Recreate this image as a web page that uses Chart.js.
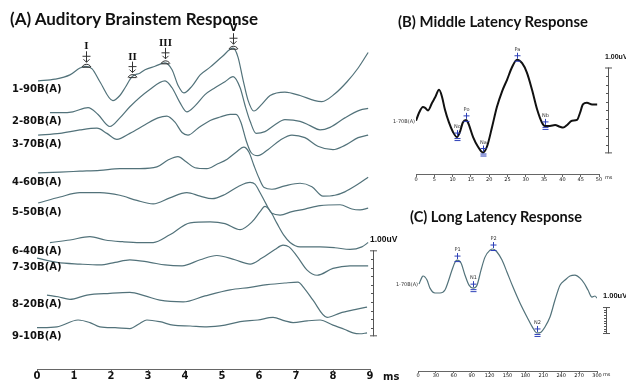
<!DOCTYPE html>
<html>
<head>
<meta charset="utf-8">
<script src="https://cdn.jsdelivr.net/npm/chart.js@4.4.1/dist/chart.umd.min.js"></script>
<style>
  html, body { margin: 0; padding: 0; background: #fff; }
  #wrap { position: relative; width: 626px; height: 381px; overflow: hidden; }
  canvas { position: absolute; }
  .title { position: absolute; font-family: Lato, sans-serif; font-weight: bold; color: #111;
           white-space: nowrap; transform-origin: 0 0; line-height: 1; }
</style>
</head>
<body>
<div id="wrap">
  <canvas id="abr" width="400" height="381" style="left:0;top:0;width:400px;height:381px"></canvas>
  <canvas id="mlr" width="241" height="195" style="left:385px;top:0;width:241px;height:195px"></canvas>
  <canvas id="llr" width="241" height="186" style="left:385px;top:195px;width:241px;height:186px"></canvas>
  <div class="title" id="tA" data-w="248" style="left:10px;top:10px;font-size:17px">(A) Auditory Brainstem Response</div>
  <div class="title" id="tB" data-w="190" style="left:398px;top:13px;font-size:16px">(B) Middle Latency Response</div>
  <div class="title" id="tC" data-w="172" style="left:410px;top:208px;font-size:16px">(C) Long Latency Response</div>
</div>
<script>
// ---- (A) ABR: one trace per stimulus level, [ms, uV relative to trace baseline]
const abrLabels = ['1-90B(A)', '2-80B(A)', '3-70B(A)', '4-60B(A)', '5-50B(A)', '6-40B(A)', '7-30B(A)', '8-20B(A)', '9-10B(A)'];
const abrOffsets = [3.35, 2.98, 2.72, 2.28, 1.93, 1.47, 1.29, 0.86, 0.48];

const abr90 = [[0.03,0],[0.49,0.02],[0.89,0.07],[1.16,0.15],[1.32,0.17],[1.49,0.14],[1.70,-0.01],[2.05,-0.23],[2.24,-0.17],[2.38,-0.08],[2.57,0.05],[2.78,0.09],[2.92,0.13],[3.19,0.17],[3.46,0.21],[3.65,0.13],[3.81,-0.05],[3.97,-0.14],[4.19,-0.06],[4.41,0.07],[4.68,0.16],[5.00,0.28],[5.30,0.38],[5.43,0.28],[5.57,0.01],[5.70,-0.22],[5.86,-0.35],[6.08,-0.27],[6.30,-0.17],[6.70,-0.13],[7.11,-0.17],[7.51,-0.23],[7.70,-0.24],[8.05,-0.15],[8.38,-0.01],[8.68,0.15],[8.95,0.33]];
const abr80 = [[0.35,0],[0.62,0],[0.97,0.01],[1.38,0.06],[1.65,-0.02],[1.97,-0.16],[2.24,-0.06],[2.51,0.07],[3.05,0.27],[3.46,0.37],[3.65,0.29],[3.86,0.12],[4.05,0.01],[4.27,0.08],[4.54,0.21],[4.81,0.29],[5.08,0.36],[5.30,0.42],[5.49,0.29],[5.62,0.09],[5.76,-0.10],[5.92,-0.24],[6.16,-0.22],[6.43,-0.14],[6.70,-0.08],[7.11,-0.10],[7.38,-0.15],[7.65,-0.20],[7.92,-0.17],[8.32,-0.06],[8.73,0.03],[8.95,0.05]];
const abr70 = [[0.03,0],[0.62,0.02],[1.16,0.06],[1.62,0.08],[1.89,0.02],[2.16,-0.05],[2.51,0.02],[2.92,0.12],[3.27,0.20],[3.51,0.22],[3.73,0.15],[3.92,0.03],[4.08,0],[4.35,0.08],[4.68,0.17],[4.95,0.21],[5.22,0.24],[5.38,0.24],[5.51,0.15],[5.65,-0.06],[5.78,-0.20],[5.97,-0.24],[6.24,-0.17],[6.57,-0.06],[6.89,0],[7.24,-0.03],[7.59,-0.13],[8.00,-0.17],[8.32,-0.12],[8.68,-0.03],[8.95,0]];
const abr60 = [[0.03,0],[0.62,0.01],[1.16,0.02],[1.70,0.03],[2.24,0.05],[2.78,0.05],[3.24,0.07],[3.54,0.15],[3.81,0.19],[4.03,0.13],[4.27,0.06],[4.59,0.05],[4.86,0.10],[5.14,0.16],[5.38,0.24],[5.59,0.30],[5.73,0.24],[5.86,0.09],[6.00,-0.06],[6.14,-0.17],[6.35,-0.19],[6.70,-0.15],[7.11,-0.12],[7.43,-0.16],[7.73,-0.27],[8.05,-0.26],[8.32,-0.22],[8.68,-0.13],[8.95,-0.05]];
const abr50 = [[0.03,0],[0.62,0.07],[1.16,0.12],[1.70,0.12],[2.24,0.09],[2.70,0.03],[3.14,-0.01],[3.59,0.06],[4.05,0.12],[4.41,0.08],[4.73,0.05],[5.08,0.10],[5.43,0.19],[5.76,0.24],[5.89,0.22],[6.03,0.12],[6.19,-0.01],[6.35,-0.12],[6.57,-0.14],[6.89,-0.10],[7.24,-0.07],[7.65,-0.03],[8.19,-0.02],[8.51,-0.07],[8.73,-0.08],[8.95,-0.06]];
const abr40 = [[0.35,0],[0.89,0.03],[1.43,0.07],[1.84,0.03],[2.32,0.01],[2.78,0],[3.14,0],[3.59,0.09],[4.14,0.23],[4.68,0.24],[5.08,0.22],[5.49,0.15],[5.81,0.24],[6.03,0.36],[6.16,0.42],[6.30,0.37],[6.49,0.22],[6.68,0.08],[6.84,0],[7.11,-0.05],[7.65,-0.05],[8.05,-0.06],[8.46,-0.08],[8.78,-0.05],[8.95,0]];
const abr30 = [[0,0],[0.54,-0.05],[1.16,-0.07],[1.70,-0.08],[2.11,-0.05],[2.51,-0.02],[3.05,-0.05],[3.46,-0.08],[3.92,-0.09],[4.41,-0.02],[4.86,0.03],[5.35,-0.02],[5.76,-0.07],[6.08,0],[6.43,0.10],[6.65,0.15],[6.81,0.13],[7.03,0.02],[7.30,-0.14],[7.57,-0.20],[8.00,-0.12],[8.46,-0.09],[8.95,-0.09]];
const abr20 = [[0.27,0],[0.57,-0.02],[0.89,-0.05],[1.35,0],[1.97,0.02],[2.51,0.03],[2.92,-0.01],[3.32,-0.06],[3.95,-0.08],[4.54,-0.01],[5.22,0.06],[5.76,0.09],[6.22,0.12],[6.70,0.14],[7.05,0.15],[7.24,0.07],[7.46,-0.06],[7.84,-0.26],[8.19,-0.21],[8.59,-0.17],[8.92,-0.14]];
const abr10 = [[0,0],[0.54,0.01],[1.11,0.09],[1.43,0.06],[1.70,0.01],[2.11,0],[2.51,-0.01],[2.78,0.05],[2.97,0.09],[3.32,0.07],[3.68,0.03],[4.14,0.02],[4.59,0.01],[5.08,0.03],[5.49,0.07],[5.97,0.09],[6.38,0.12],[6.70,0.08],[6.92,0.06],[7.30,0.08],[7.65,0.09],[8.00,0.03],[8.32,-0.02],[8.54,-0.06],[8.73,-0.07],[8.92,-0.06]];
const abrTraces = [abr90, abr80, abr70, abr60, abr50, abr40, abr30, abr20, abr10];
const abrTicks = [0, 1, 2, 3, 4, 5, 6, 7, 8, 9];
const abrPeakNames = ['I', 'II', 'III', 'V'];
const abrPeakTimes = [1.32, 2.57, 3.46, 5.30];

// ---- (B) MLR
const mlrTimes = [0,0.8,1.9,2.5,3.3,4.4,5.2,6.3,7.1,7.9,9.0,10.1,11.2,12.0,12.8,13.7,14.2,15.6,16.9,18.3,19.4,20.8,22.1,23.5,24.9,26.2,27.6,29.0,30.3,31.7,33.1,34.4,35.2,36.6,38.0,39.3,40.2,41.3,42.6,44.0,44.8,45.6,46.7,48.1,49.5];
const mlrAmps = [0,0.09,0.16,0.15,0.12,0.21,0.27,0.36,0.28,0.13,-0.02,-0.13,-0.19,-0.13,-0.02,0.01,-0.02,-0.19,-0.30,-0.37,-0.30,-0.07,0.16,0.34,0.48,0.62,0.71,0.67,0.56,0.36,0.13,-0.02,-0.06,-0.06,-0.05,-0.07,-0.08,-0.05,0,0.01,0.09,0.19,0.21,0.19,0.19];
const mlrTicks = [0, 5, 10, 15, 20, 25, 30, 35, 40, 45, 50];
const mlrPeakNames = ['No', 'Po', 'Na', 'Pa', 'Nb'];
const mlrPeakTimes = [11.2, 13.7, 18.3, 27.6, 35.2];

// ---- (C) LLR
const llrTimes = [1.7,6.7,8.4,15.1,20.1,28.5,36.9,45.2,50.3,57.0,62.0,65.4,72.1,78.8,85.5,92.2,98.9,105.6,112.3,120.7,125.7,132.4,140.8,149.2,159.2,170.9,182.7,192.7,199.4,206.1,212.8,221.2,229.6,238.0,246.4,254.7,263.1,271.5,278.2,284.9,291.6,296.6,300];
const llrAmps = [0,0.26,0.30,0.15,-0.15,-0.33,-0.33,-0.22,0.07,0.52,0.81,0.89,0.78,0.33,-0.04,-0.15,-0.04,0.52,1.00,1.26,1.30,1.19,0.89,0.44,-0.11,-0.70,-1.22,-1.63,-1.81,-1.78,-1.59,-1.22,-0.59,-0.04,0.15,0.30,0.33,0.22,0.04,-0.22,-0.48,-0.44,-0.52];
const llrTicks = [0, 30, 60, 90, 120, 150, 180, 210, 240, 270, 300];
const llrPeakNames = ['P1', 'N1', 'P2', 'N2'];
const llrPeakTimes = [65.4, 92.2, 125.7, 199.4];

const TRACE = '#52727a';
const BLUE = '#2c3fb8';

function scaleBar(ctx, x, yTop, yBot, label, font, labelDy) {
  ctx.save();
  ctx.strokeStyle = '#555';
  ctx.lineWidth = 1;
  ctx.beginPath();
  ctx.moveTo(x + 0.5, yTop); ctx.lineTo(x + 0.5, yBot);
  ctx.moveTo(x - 3, yTop + 0.5); ctx.lineTo(x + 4, yTop + 0.5);
  ctx.moveTo(x - 3, yBot - 0.5); ctx.lineTo(x + 4, yBot - 0.5);
  for (let k = 1; k < 10; k++) {
    const y = Math.round(yTop + (yBot - yTop) * k / 10) + 0.5;
    ctx.moveTo(x - 2, y); ctx.lineTo(x + 0.5, y);
  }
  ctx.stroke();
  ctx.fillStyle = '#111';
  ctx.font = font;
  ctx.textAlign = 'left';
  ctx.textBaseline = 'middle';
  ctx.fillText(label, x - 3, yTop - labelDy);
  ctx.restore();
}

function xAxis(min, max, ticks, font, tickLen) {
  return {
    type: 'linear', min, max,
    afterBuildTicks: (s) => { s.ticks = ticks.map((v) => ({ value: v })); },
    ticks: { color: '#111', font, padding: 0, maxRotation: 0, autoSkip: false },
    grid: { drawOnChartArea: false, drawTicks: true, tickLength: tickLen, color: '#666' },
    border: { display: true, color: '#666', width: 1 },
  };
}

function hiddenY(min, max) {
  return { type: 'linear', min, max, display: false };
}

// ---------- Chart A ----------
const abrPlugin = {
  id: 'abrDecor',
  afterDraw(chart) {
    const { ctx, scales: { x: xs, y: ys } } = chart;
    ctx.save();
    ctx.fillStyle = '#111';
    ctx.font = 'bold 10px "DejaVu Sans"';
    ctx.textAlign = 'left';
    ctx.textBaseline = 'middle';
    abrLabels.forEach((lab, i) => ctx.fillText(lab, 12, ys.getPixelForValue(abrOffsets[i]) + 9));

    // wave markers on the 90 dB trace
    abrPeakNames.forEach((name, k) => {
      const pt = abr90.find((p) => p[0] === abrPeakTimes[k]);
      const px = Math.round(xs.getPixelForValue(pt[0])) + 0.5;
      const py = ys.getPixelForValue(abrOffsets[0] + pt[1]);
      ctx.strokeStyle = '#333';
      ctx.lineWidth = 1;
      ctx.beginPath();
      ctx.arc(px, py + 3, 5, Math.PI * 1.15, Math.PI * 1.85);
      ctx.moveTo(px - 4, py + 1); ctx.lineTo(px + 4, py + 1);
      ctx.moveTo(px, py - 15); ctx.lineTo(px, py - 4);
      ctx.moveTo(px - 4, py - 10); ctx.lineTo(px + 4, py - 10);
      ctx.moveTo(px - 3, py - 7); ctx.lineTo(px, py - 4); ctx.lineTo(px + 3, py - 7);
      ctx.stroke();
      ctx.fillStyle = '#111';
      ctx.font = name === 'V' ? 'bold 10px "DejaVu Sans"' : 'bold 11px "Liberation Serif"';
      ctx.textAlign = 'center';
      ctx.textBaseline = 'alphabetic';
      ctx.fillText(name, px, py - 17);
    });

    ctx.font = 'bold 10px "DejaVu Sans"';
    ctx.textAlign = 'left';
    ctx.textBaseline = 'middle';
    ctx.fillText('ms', xs.right + 13, ys.bottom + 8);
    ctx.restore();
    scaleBar(ctx, Math.round(xs.right) + 3, ys.getPixelForValue(1.38), ys.getPixelForValue(0.38),
      '1.00uV', 'bold 8.5px "Liberation Sans"', 11);
  },
};

new Chart(document.getElementById('abr'), {
  type: 'line',
  data: {
    datasets: abrTraces.map((tr, i) => ({
      label: abrLabels[i],
      data: tr.map(([t, v]) => ({ x: t, y: abrOffsets[i] + v })),
      borderColor: TRACE, borderWidth: 1.2, pointRadius: 0,
      cubicInterpolationMode: 'monotone', fill: false,
    })),
  },
  options: {
    responsive: false, animation: false,
    layout: { padding: { left: 37, right: 30, top: 0, bottom: 0 } },
    plugins: { legend: { display: false }, tooltip: { enabled: false } },
    scales: {
      x: xAxis(0, 9, abrTicks, { family: 'DejaVu Sans', weight: 'bold', size: 10, lineHeight: 1 }, 2),
      y: hiddenY(0, 369 / 86),
    },
  },
  plugins: [abrPlugin],
});

// ---------- peak markers for B and C ----------
function markPeaks(chart, names, pTimes, times, amps, labelFont) {
  const { ctx, scales: { x: xs, y: ys } } = chart;
  ctx.save();
  names.forEach((name, k) => {
    const i = times.indexOf(pTimes[k]);
    const px = Math.round(xs.getPixelForValue(times[i])) + 0.5;
    const py = ys.getPixelForValue(amps[i]);
    ctx.strokeStyle = BLUE;
    ctx.lineWidth = 1;
    ctx.beginPath();
    ctx.moveTo(px - 3, py - 4); ctx.lineTo(px + 3, py - 4);
    ctx.moveTo(px, py - 7); ctx.lineTo(px, py - 1);
    ctx.moveTo(px - 3, py + 1.5); ctx.lineTo(px + 3, py + 1.5);
    if (name[0] === 'N') { ctx.moveTo(px - 3, py + 3.5); ctx.lineTo(px + 3, py + 3.5); }
    ctx.stroke();
    ctx.fillStyle = '#333';
    ctx.font = labelFont;
    ctx.textAlign = 'center';
    ctx.textBaseline = 'alphabetic';
    ctx.fillText(name, px, py - 9);
  });
  ctx.restore();
}

function traceLabel(chart, text, t0, v0) {
  const { ctx, scales: { x: xs, y: ys } } = chart;
  ctx.save();
  ctx.fillStyle = '#333';
  ctx.font = '5px "DejaVu Sans"';
  ctx.textAlign = 'right';
  ctx.textBaseline = 'middle';
  ctx.fillText(text, xs.getPixelForValue(t0) - 1, ys.getPixelForValue(v0) + 1);
  ctx.restore();
}

function msLabel(chart) {
  const { ctx, scales: { x: xs } } = chart;
  ctx.save();
  ctx.fillStyle = '#222';
  ctx.font = '5px "DejaVu Sans"';
  ctx.textAlign = 'left';
  ctx.textBaseline = 'middle';
  ctx.fillText('ms', xs.right + 6, xs.top + 4);
  ctx.restore();
}

// ---------- Chart B ----------
new Chart(document.getElementById('mlr'), {
  type: 'line',
  data: {
    datasets: [{
      data: mlrTimes.map((t, i) => ({ x: t, y: mlrAmps[i] })),
      borderColor: '#111', borderWidth: 2, pointRadius: 0,
      cubicInterpolationMode: 'monotone', fill: false,
    }],
  },
  options: {
    responsive: false, animation: false,
    layout: { padding: { left: 31, right: 27, top: 40, bottom: 13 } },
    plugins: { legend: { display: false }, tooltip: { enabled: false } },
    scales: {
      x: xAxis(0, 50, mlrTicks, { family: 'DejaVu Sans', size: 5, lineHeight: 1 }, 3),
      y: hiddenY(-0.62, 0.94),
    },
  },
  plugins: [{
    id: 'mlrDecor',
    afterDraw(chart) {
      const { x: xs, y: ys } = chart.scales;
      traceLabel(chart, '1-70B(A)', mlrTimes[0], mlrAmps[0]);
      markPeaks(chart, mlrPeakNames, mlrPeakTimes, mlrTimes, mlrAmps, '5px "DejaVu Sans"');
      msLabel(chart);
      scaleBar(chart.ctx, Math.round(xs.right) + 9, ys.getPixelForValue(0.62), ys.getPixelForValue(-0.38),
        '1.00uV', 'bold 7px "Liberation Sans"', 10);
    },
  }],
});

// ---------- Chart C ----------
new Chart(document.getElementById('llr'), {
  type: 'line',
  data: {
    datasets: [{
      data: llrTimes.map((t, i) => ({ x: t, y: llrAmps[i] })),
      borderColor: TRACE, borderWidth: 1.2, pointRadius: 0,
      cubicInterpolationMode: 'monotone', fill: false,
    }],
  },
  options: {
    responsive: false, animation: false,
    layout: { padding: { left: 33, right: 29, top: 30, bottom: 3 } },
    plugins: { legend: { display: false }, tooltip: { enabled: false } },
    scales: {
      x: xAxis(0, 300, llrTicks, { family: 'DejaVu Sans', size: 5, lineHeight: 1 }, 2),
      y: hiddenY(-3.22, 2.19),
    },
  },
  plugins: [{
    id: 'llrDecor',
    afterDraw(chart) {
      const { x: xs, y: ys } = chart.scales;
      traceLabel(chart, '1-70B(A)', llrTimes[0], llrAmps[0]);
      markPeaks(chart, llrPeakNames, llrPeakTimes, llrTimes, llrAmps, '5px "DejaVu Sans"');
      msLabel(chart);
      scaleBar(chart.ctx, Math.round(xs.right) + 9, ys.getPixelForValue(-0.85), ys.getPixelForValue(-1.85),
        '1.00uV', 'bold 7.5px "Liberation Sans"', 11);
    },
  }],
});

// squeeze the titles to the reference widths
document.querySelectorAll('.title').forEach((el) => {
  const w = el.getBoundingClientRect().width;
  el.style.transform = `scaleX(${(+el.dataset.w / w).toFixed(3)})`;
});
</script>
</body>
</html>
